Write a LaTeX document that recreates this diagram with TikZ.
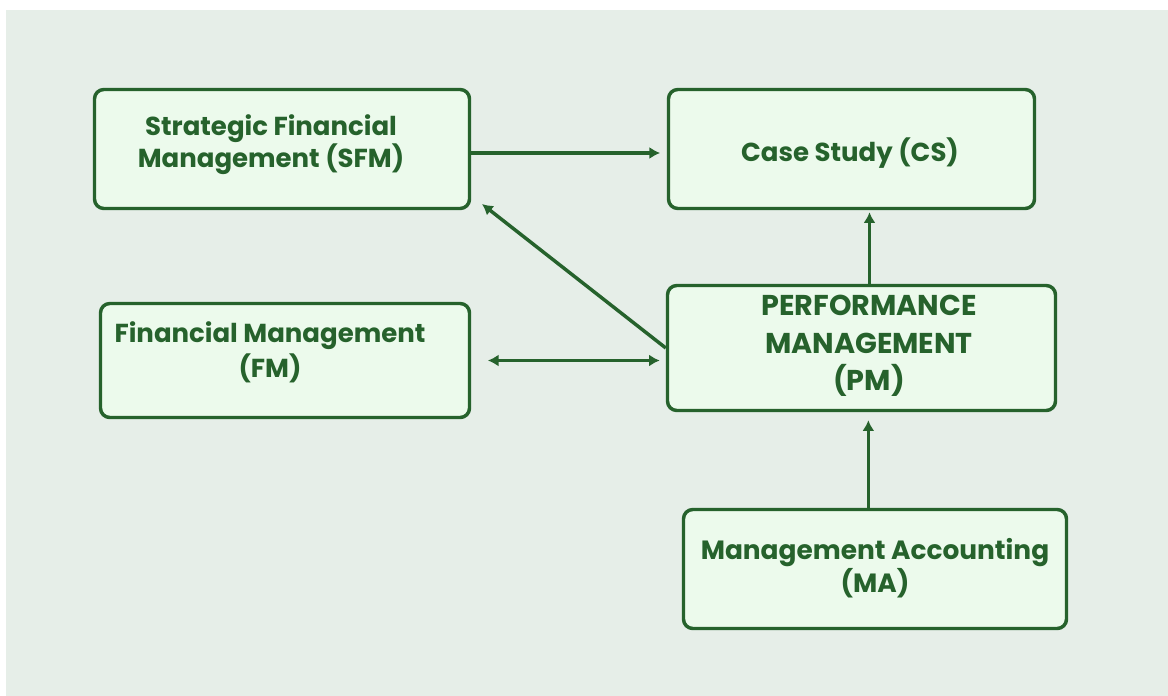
\documentclass[tikz,border=0pt]{standalone}
\usepackage{fontspec}
\setmainfont{Poppins}
\usetikzlibrary{arrows.meta}

\definecolor{dgreen}{RGB}{38,98,44}
\definecolor{boxfill}{RGB}{236,250,236}
\definecolor{bgfill}{RGB}{230,238,232}

\tikzset{every picture/.style={line width=0.75pt}}
\tikzset{
  box/.style={draw=dgreen, fill=boxfill, line width=2.6pt, rounded corners=7pt, inner sep=0pt},
  label/.style={text=dgreen, font=\bfseries\fontsize{19.5}{23.5}\selectfont, align=center, inner sep=0pt},
  tip/.tip={Latex[length=8pt,width=9pt]},
  arr/.style={draw=dgreen, line width=2.6pt, -tip},
}

\begin{document}
\begin{tikzpicture}[x=0.75pt,y=0.75pt,yscale=-1,xscale=1]
%set diagram left start at 0, and has height of 696
\useasboundingbox (0,0) rectangle (1168,696);
\fill [white] (0,0) rectangle (1168,696);
\fill [bgfill] (6,10) rectangle (1168,696);

% Boxes
\node [box, minimum width=375*0.75pt, minimum height=119*0.75pt] (SFM) at (282,149) {};
\node [box, minimum width=366*0.75pt, minimum height=119*0.75pt] (CS) at (851.5,149) {};
\node [box, minimum width=369*0.75pt, minimum height=114*0.75pt] (FM) at (285,360.5) {};
\node [box, minimum width=388*0.75pt, minimum height=125*0.75pt] (PM) at (861.5,348) {};
\node [box, minimum width=383*0.75pt, minimum height=119*0.75pt] (MA) at (875,569) {};

% Text Nodes
\node [label] (SFMtext) at (271,144.5) {Strategic Financial\\Management (SFM)};
\node [label] (CStext) at (850,153) {Case Study (CS)};
\node [label, font=\bfseries\fontsize{19.5}{26.5}\selectfont] (FMtext) at (270,352) {Financial Management\\(FM)};
\node [label, font=\bfseries\fontsize{21.5}{28}\selectfont] (PMtext) at (869,346) {PERFORMANCE\\MANAGEMENT\\(PM)};
\node [label, font=\bfseries\fontsize{19.8}{24.5}\selectfont] (MAtext) at (875,568) {Management Accounting\\(MA)};

\coordinate (sfmtip) at (482,204);

% Arrows
\draw [arr, shorten >=5pt] ([yshift=3pt]SFM.east) -- ([yshift=3pt]SFM.east -| CS.west);
\draw [arr, shorten >=1.5pt] ([xshift=6pt]PM.north) -- ([xshift=6pt]PM.north |- CS.south);
\draw [arr, shorten >=6pt] ([xshift=-5pt]MA.north) -- ([xshift=-5pt]MA.north |- PM.south);
\draw [arr, tip-tip, shorten <=12.5pt, shorten >=4.5pt] (FM.east) -- (FM.east -| PM.west);
\draw [arr] (PM.west) -- (sfmtip);

\end{tikzpicture}
\end{document}
